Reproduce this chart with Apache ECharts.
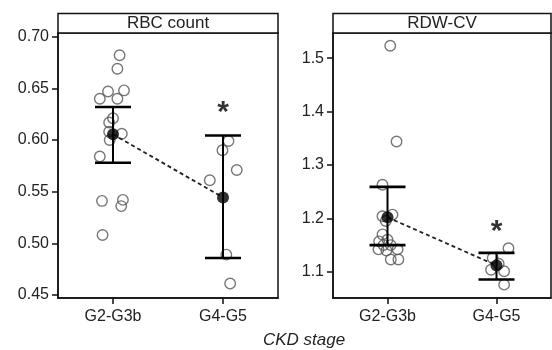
<!DOCTYPE html>
<html><head><meta charset="utf-8">
<script src="https://cdn.jsdelivr.net/npm/echarts@6/dist/echarts.min.js"></script>
<style>html,body{margin:0;padding:0;background:#fff}#c{width:552px;height:350px}</style>
</head><body><div id="c"></div>
<script>
// ---- data ----
const categories = ['G2-G3b', 'G4-G5'];
const panelTitles = ['RBC count', 'RDW-CV'];
const xTitle = 'CKD stage';

// RBC count, individual points (value) and their horizontal jitter (category units)
const rbcG1 = [0.682, 0.669, 0.648, 0.647, 0.640, 0.640, 0.621, 0.617, 0.608, 0.606, 0.600, 0.584, 0.541, 0.542, 0.536, 0.508];
const rbcG1Jit = [0.06, 0.04, 0.10, -0.045, -0.12, 0.04, 0.0, -0.035, -0.035, 0.08, -0.03, -0.12, -0.10, 0.09, 0.075, -0.095];
const rbcG2 = [0.599, 0.590, 0.571, 0.561, 0.489, 0.461];
const rbcG2Jit = [0.05, -0.005, 0.125, -0.12, 0.03, 0.065];
const rbcMean = [0.6056, 0.5443];
const rbcLo = [0.578, 0.4857];
const rbcHi = [0.632, 0.6043];
const rbcStar = [null, 0.626];
const rbcTicks = [0.45, 0.50, 0.55, 0.60, 0.65, 0.70];

// RDW-CV
const rdwG1 = [1.523, 1.344, 1.263, 1.207, 1.204, 1.195, 1.170, 1.160, 1.157, 1.150, 1.142, 1.142, 1.123, 1.123, 1.150, 1.140];
const rdwG1Jit = [0.025, 0.083, -0.046, 0.046, -0.046, -0.016, -0.046, 0.0, -0.077, 0.03, -0.083, 0.092, 0.03, 0.10, -0.037, -0.01];
const rdwG2 = [1.144, 1.126, 1.115, 1.104, 1.101, 1.076];
const rdwG2Jit = [0.11, -0.035, 0.02, -0.05, 0.07, 0.07];
const rdwMean = [1.202, 1.112];
const rdwLo = [1.150, 1.0856];
const rdwHi = [1.259, 1.1355];
const rdwStar = [null, 1.175];
const rdwTicks = [1.1, 1.2, 1.3, 1.4, 1.5];

// ---- chart ----
const FONT = 'Liberation Sans, Arial, sans-serif';
const chart = echarts.init(document.getElementById('c'), null, {renderer: 'canvas'});

function pts(vals, jit, g) { return vals.map((v, i) => [g + 1 + jit[i], v]); }

const grids = [
  {left: 58, top: 33, width: 220, height: 265},
  {left: 333, top: 33, width: 218, height: 265}
];
const yRanges = [[0.447, 0.7036], [1.051, 1.547]];
const yTicks = [rbcTicks, rdwTicks];
const yDigits = [2, 1];

const panels = [
  {g1: rbcG1, j1: rbcG1Jit, g2: rbcG2, j2: rbcG2Jit, mean: rbcMean, lo: rbcLo, hi: rbcHi, star: rbcStar},
  {g1: rdwG1, j1: rdwG1Jit, g2: rdwG2, j2: rdwG2Jit, mean: rdwMean, lo: rdwLo, hi: rdwHi, star: rdwStar}
];

const xAxes = [], yAxes = [], series = [], graphics = [];
panels.forEach((p, k) => {
  xAxes.push({
    gridIndex: k, type: 'value', min: 0.5, max: 2.5,
    axisLine: {show: true, lineStyle: {color: '#111', width: 1.5}},
    axisTick: {show: true, length: 6, lineStyle: {color: '#111', width: 1.5}, customValues: [1, 2]},
    axisLabel: {customValues: [1, 2], formatter: v => categories[Math.round(v) - 1] || '',
      fontFamily: FONT, fontSize: 16, color: '#222', margin: 11},
    splitLine: {show: false}
  });
  yAxes.push({
    gridIndex: k, type: 'value', min: yRanges[k][0], max: yRanges[k][1],
    axisLine: {show: true, lineStyle: {color: '#111', width: 1.5}},
    axisTick: {show: true, length: 6, lineStyle: {color: '#111', width: 1.5}, customValues: yTicks[k]},
    axisLabel: {customValues: yTicks[k], formatter: v => Number(v).toFixed(yDigits[k]),
      fontFamily: FONT, fontSize: 16, color: '#222', margin: 9},
    splitLine: {show: false}
  });
  const circleStyle = {color: 'transparent', borderColor: '#555', borderWidth: 1.4};
  series.push({
    type: 'scatter', xAxisIndex: k, yAxisIndex: k, symbol: 'circle', symbolSize: 10.5,
    itemStyle: circleStyle, z: 2, silent: true,
    data: pts(p.g1, p.j1, 0).concat(pts(p.g2, p.j2, 1))
  });
  series.push({
    type: 'custom', xAxisIndex: k, yAxisIndex: k, z: 3, silent: true,
    encode: {x: 0, y: [1, 2]},
    data: categories.map((c, i) => [i + 1, p.lo[i], p.hi[i]]),
    renderItem: (params, api) => {
      const x = api.value(0);
      const a = api.coord([x, api.value(1)]);
      const b = api.coord([x, api.value(2)]);
      const hw = 18;
      const st = {stroke: '#000', lineWidth: 2};
      const cs = {stroke: '#000', lineWidth: 2.6};
      return {type: 'group', children: [
        {type: 'line', shape: {x1: a[0], y1: a[1], x2: b[0], y2: b[1]}, style: st},
        {type: 'line', shape: {x1: a[0] - hw, y1: a[1], x2: a[0] + hw, y2: a[1]}, style: cs},
        {type: 'line', shape: {x1: b[0] - hw, y1: b[1], x2: b[0] + hw, y2: b[1]}, style: cs}
      ]};
    }
  });
  series.push({
    type: 'line', xAxisIndex: k, yAxisIndex: k, z: 4, silent: true,
    symbol: 'none', lineStyle: {color: '#222', width: 1.8, type: [4, 3]},
    data: p.mean.map((m, i) => [i + 1, m])
  });
  series.push({
    type: 'scatter', xAxisIndex: k, yAxisIndex: k, z: 5, silent: true,
    symbol: 'circle', symbolSize: 12, itemStyle: {color: '#000'},
    data: p.mean.map((m, i) => [i + 1, m])
  });
  series.push({
    type: 'scatter', xAxisIndex: k, yAxisIndex: k, z: 6, silent: true,
    symbolSize: 0,
    label: {show: true, position: 'inside', formatter: '*', fontFamily: FONT, fontSize: 30,
      fontWeight: 'bold', color: '#000'},
    data: p.star.map((s, i) => s == null ? null : [i + 1, s]).filter(d => d)
  });
  // facet strip
  const g = grids[k];
  graphics.push({type: 'rect', shape: {x: g.left, y: 13.5, width: g.width, height: 19.5},
    style: {fill: '#fff', stroke: '#111', lineWidth: 1.5}, z: 10});
  graphics.push({type: 'text', x: g.left + g.width / 2, y: 23.5,
    style: {text: panelTitles[k], fontFamily: FONT, fontSize: 17, fill: '#222',
      textAlign: 'center', textVerticalAlign: 'middle'}, z: 11});
});

graphics.push({type: 'text', x: 304, y: 340,
  style: {text: xTitle, fontFamily: FONT, fontSize: 17, fontStyle: 'italic', fill: '#222',
    textAlign: 'center', textVerticalAlign: 'middle'}});

chart.setOption({
  animation: false,
  backgroundColor: '#fff',
  grid: grids.map(g => Object.assign({show: true, borderColor: '#111', borderWidth: 1.5, backgroundColor: 'transparent'}, g)),
  xAxis: xAxes,
  yAxis: yAxes,
  series: series,
  graphic: graphics
});
</script>
</body></html>
